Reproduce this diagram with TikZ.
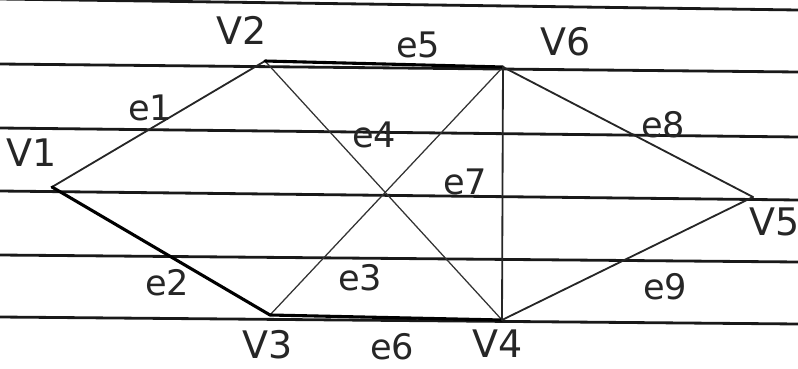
\documentclass[tikz,border=0pt]{standalone}
\usepackage{fontspec}
\setmainfont{DejaVu Sans}
\begin{document}
\begin{tikzpicture}[x=0.025cm, y=-0.025cm, line cap=round]
\tikzset{
	ruleline/.style={line width=2pt, black!90},
	edgethin/.style={line width=0.9pt, black!80},
	edgemid/.style={line width=1.3pt, black!85},
	edgebold/.style={line width=2.2pt, black},
	vlabel/.style={inner sep=0pt, text=black!85, font=\fontsize{27}{29}\selectfont},
	elabel/.style={inner sep=0pt, text=black!85, font=\fontsize{25}{27}\selectfont}
}
\useasboundingbox (0,0) rectangle (798,369);

% ruled paper
\draw[ruleline] (0,-1) -- (798,10);
\draw[ruleline] (0,64) -- (798,72);
\draw[ruleline] (0,128) -- (798,137);
\draw[ruleline] (0,191) -- (798,200);
\draw[ruleline] (0,255) -- (798,262);
\draw[ruleline] (0,317) -- (798,324);

\coordinate (v1) at (52,187);
\coordinate (v2) at (265,61);
\coordinate (v3) at (270,315);
\coordinate (v4) at (502,320);
\coordinate (v5) at (753,197);
\coordinate (v6) at (503,67);

\draw[edgemid] (v1) -- (v2);
\draw[edgebold] (v1) -- (v3);
\draw[edgethin] (v3) -- (v6);
\draw[edgethin] (v2) -- (v4);
\draw[edgebold] (v2) -- (v6);
\draw[edgebold] (v3) -- (v4);
\draw[edgemid] (v6) -- (v4);
\draw[edgemid] (v6) -- (v5);
\draw[edgemid] (v4) -- (v5);

\node[vlabel] (l1) at (32,153) {V1};
\node[vlabel] (l2) at (242,30) {V2};
\node[vlabel] (l3) at (268,345) {V3};
\node[vlabel] (l4) at (498,344) {V4};
\node[vlabel] (l5) at (775,222) {V5};
\node[vlabel] (l6) at (566,42) {V6};

\node[elabel] (m1) at (150,108) {e1};
\node[elabel] (m2) at (167,283) {e2};
\node[elabel] (m3) at (360,278) {e3};
\node[elabel] (m4) at (374,135) {e4};
\node[elabel] (m5) at (418,45) {e5};
\node[elabel] (m6) at (392,347) {e6};
\node[elabel] (m7) at (465,182) {e7};
\node[elabel] (m8) at (663,125) {e8};
\node[elabel] (m9) at (665,287) {e9};

\end{tikzpicture}
\end{document}
